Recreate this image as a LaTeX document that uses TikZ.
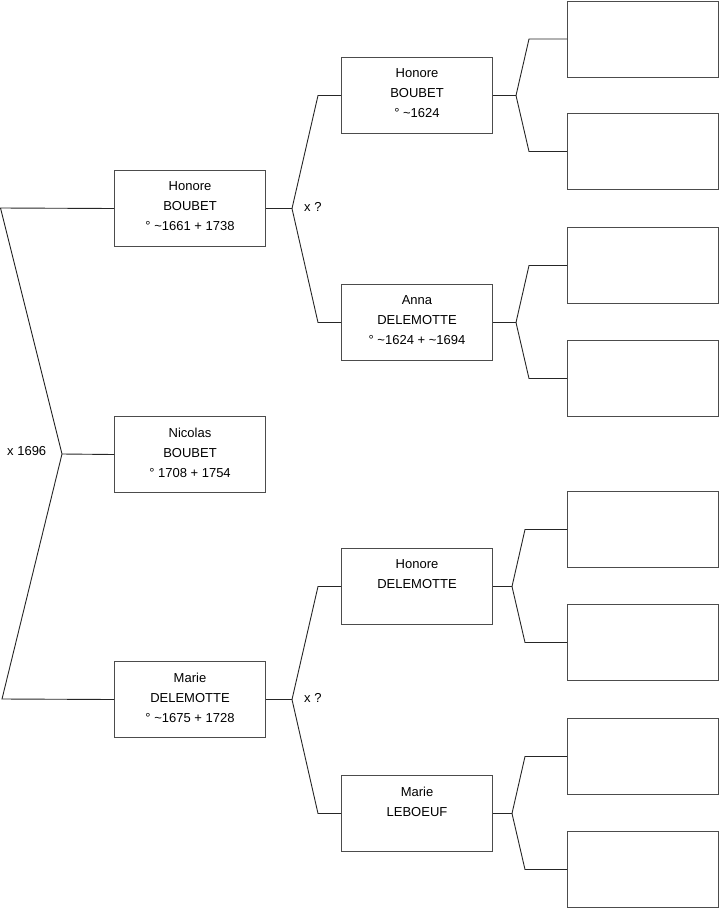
\documentclass[tikz,border=0pt]{standalone}
\usepackage{fontspec}
\setmainfont{Liberation Sans}
\begin{document}
\begin{tikzpicture}[x=1pt,y=-1pt,
  person/.style={draw=black!70, line width=1pt, minimum width=151pt, minimum height=76pt,
    inner sep=0pt, align=center, font=\fontsize{13}{20}\selectfont, anchor=north west},
  link/.style={draw=black!85, line width=0.9pt},
  lbl/.style={font=\fontsize{13}{15}\selectfont, anchor=west, inner sep=0pt}]
\useasboundingbox (0,0) rectangle (719,908);
% generation 1
\node[person] (nic) at (114,416) {Nicolas\\BOUBET\\° 1708 + 1754\\[-16pt]};
% generation 2
\node[person] (hb2) at (114,170) {Honore\\BOUBET\\° \textasciitilde1661 + 1738\\[-16pt]};
\node[person] (md2) at (114,661) {Marie\\DELEMOTTE\\° \textasciitilde1675 + 1728\\[-16pt]};
% generation 3
\node[person] (hb3) at (341,57) {Honore\\BOUBET\\° \textasciitilde1624\\[-16pt]};
\node[person] (ad3) at (341,284) {Anna\\DELEMOTTE\\° \textasciitilde1624 + \textasciitilde1694\\[-16pt]};
\node[person] (hd3) at (341,548) {Honore\\DELEMOTTE\\\strut\\[-16pt]};
\node[person] (ml3) at (341,775) {Marie\\LEBOEUF\\\strut\\[-16pt]};
% generation 4
\node[person] (g1) at (567,0.5) {};
\node[person] (g2) at (567,113) {};
\node[person] (g3) at (567,227) {};
\node[person] (g4) at (567,340) {};
\node[person] (g5) at (567,491) {};
\node[person] (g6) at (567,604) {};
\node[person] (g7) at (567,718) {};
\node[person] (g8) at (567,831) {};
% labels
\node[lbl] (m1) at (7,451) {x 1696};
\node[lbl] (m2) at (304,207) {x ?};
\node[lbl] (m3) at (304,698) {x ?};
% connectors gen1
\coordinate (f1) at (62,454);
\coordinate (a1) at (0.5,208);
\coordinate (a2) at (2,699);
\draw[link] (hb2.west) -- (a1) -- (f1) -- (a2) -- (md2.west);
\draw[link] (f1) -- (nic.west);
% connectors gen2
\draw[link] (hb2.east) -- ++(26,0) coordinate (f2);
\draw[link] (hb3.west) -- ++(-23,0) -- (f2) -- ([xshift=-23pt]ad3.west) -- (ad3.west);
\draw[link] (md2.east) -- ++(26,0) coordinate (f3);
\draw[link] (hd3.west) -- ++(-23,0) -- (f3) -- ([xshift=-23pt]ml3.west) -- (ml3.west);
% connectors gen3
\draw[link] (hb3.east) -- ++(23,0) coordinate (f4);
\draw[link] (g1.west) -- ++(-38,0) -- (f4) -- ([xshift=-38pt]g2.west) -- (g2.west);
\draw[link] (ad3.east) -- ++(23,0) coordinate (f5);
\draw[link] (g3.west) -- ++(-38,0) -- (f5) -- ([xshift=-38pt]g4.west) -- (g4.west);
\draw[link] (hd3.east) -- ++(19,0) coordinate (f6);
\draw[link] (g5.west) -- ++(-42,0) -- (f6) -- ([xshift=-42pt]g6.west) -- (g6.west);
\draw[link] (ml3.east) -- ++(19,0) coordinate (f7);
\draw[link] (g7.west) -- ++(-42,0) -- (f7) -- ([xshift=-42pt]g8.west) -- (g8.west);
\end{tikzpicture}
\end{document}
